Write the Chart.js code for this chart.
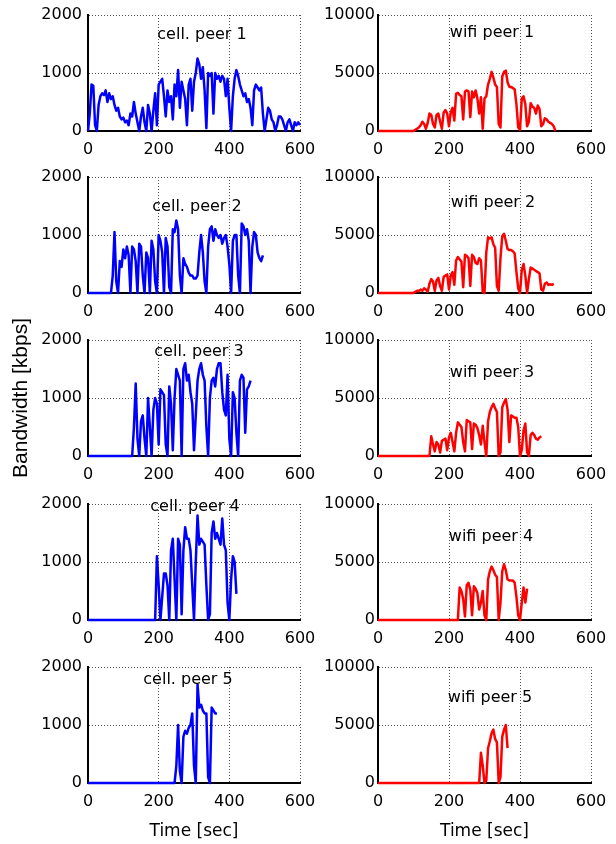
<!DOCTYPE html>
<html>
<head>
<meta charset="utf-8">
<script src="https://cdn.jsdelivr.net/npm/chart.js@4.4.1/dist/chart.umd.min.js"></script>
<style>
  body { margin: 0; background: #fff; width: 616px; height: 844px; position: relative; overflow: hidden; }
  canvas { position: absolute; }
</style>
</head>
<body>
<script>
// traces sampled every 5 s, each starts at its start time (before that the line sits on 0)
const step = 5;

const cellTitles = ["cell. peer 1", "cell. peer 2", "cell. peer 3", "cell. peer 4", "cell. peer 5"];
const wifiTitles = ["wifi peer 1", "wifi peer 2", "wifi peer 3", "wifi peer 4", "wifi peer 5"];
const xTicks = [0, 200, 400, 600];
const cellTicks = [0, 1000, 2000];
const wifiTicks = [0, 5000, 10000];

const cellStart = [0, 65, 125, 190, 245];
const wifiStart = [100, 100, 145, 225, 285];

const cell1 = [
  0,300,800,780,100,0,450,600,650,620,
  700,500,650,550,600,450,350,400,250,200,
  230,150,180,100,300,250,500,300,150,0,
  250,400,150,0,450,300,0,350,650,100,
  800,850,900,600,250,700,500,600,200,800,
  600,1050,400,850,700,550,100,800,900,350,
  850,1000,1250,1150,900,1100,700,50,1000,950,
  1000,300,1000,900,950,850,950,900,600,900,
  400,0,600,900,1050,950,800,700,600,650,
  500,550,400,100,700,800,750,700,750,300,
  0,200,400,350,200,150,0,100,250,250,
  200,100,0,150,200,100,0,150,100,150,
  100
];
const cell2 = [
  0,300,1050,200,0,550,450,750,600,800,
  650,0,800,750,550,0,850,800,300,0,
  700,600,0,900,750,200,0,1000,900,700,
  0,950,800,100,0,1100,1050,1250,1100,300,
  0,600,500,450,350,300,300,250,250,300,
  700,1000,700,200,0,800,1100,1150,900,1100,
  1000,950,1000,850,950,1000,800,500,0,900,
  1000,1000,300,0,1200,1150,1000,1100,900,0,
  800,1050,1000,700,600,550,650
];
const cell3 = [
  0,500,1250,300,0,600,700,300,0,1000,
  500,0,800,1000,900,200,1150,1100,1050,200,
  0,1200,900,100,1000,1500,1400,1300,0,1500,
  1600,1300,1400,1100,900,100,700,1300,1500,1600,
  1400,1300,500,0,1000,1300,1350,1200,1500,1600,
  1600,1100,800,700,1400,300,0,1100,1000,400,
  0,1300,1400,1350,400,1150,1200,1300
];
const cell4 = [
  0,1100,600,0,400,800,800,600,0,1200,
  1400,700,0,1400,1300,100,1200,1600,1400,1400,
  1200,600,0,1000,1800,1300,1400,1350,1300,600,
  0,100,1500,1700,1400,1500,1400,1300,1750,1300,
  1200,300,0,700,1100,1000,450
];
const cell5 = [
  0,300,1000,200,0,800,900,850,950,1000,
  1200,300,0,1700,1300,1350,1250,1200,1200,100,
  0,1300,1250,1200,1200
];

const wifi1 = [
  0,100,200,300,500,800,600,200,700,1500,
  1400,600,300,1400,1500,800,200,1600,1800,1500,
  400,1600,2000,900,3200,3300,3100,3000,1000,3400,
  3500,3400,1200,3400,2900,3500,2800,1500,2900,200,
  2800,3000,4000,4500,5100,4600,4000,3800,600,300,
  4700,5100,5200,4200,3800,3800,3700,3600,2300,300,
  100,2800,3000,2300,400,800,2400,2100,2000,1500,
  2200,1900,400,600,1100,1000,800,700,600,400,
  0
];
const wifi2 = [
  0,100,200,150,300,200,400,300,100,800,
  1200,1000,200,1100,1300,600,200,1400,1500,1600,
  300,1500,1800,700,2800,3100,2900,2700,500,3300,
  3200,3000,600,3300,3100,2600,2500,3000,2800,100,
  0,3500,4800,4700,4800,4200,3900,600,200,3000,
  4900,5100,4500,3800,3700,3700,3600,3400,1800,400,
  0,2000,2500,1500,0,1200,2200,2100,2000,1900,
  1800,1700,300,200,800,900,700,750,700,800
];
const wifi3 = [
  0,1700,1000,400,1200,1000,300,1300,1400,1500,
  500,1600,2000,1200,400,2000,2900,2700,2500,1200,
  400,3100,3000,2900,600,2800,2700,2400,1800,1000,
  2600,1200,0,3000,3800,4200,4500,4100,3800,0,
  300,4200,4600,4900,4000,1200,3500,3400,3300,3300,
  2500,0,500,2200,2800,300,0,1800,2000,1800,
  1500,1400,1600,1700
];
const wifi4 = [
  0,2800,2500,1800,300,3000,3200,2600,400,2900,
  2700,2300,900,1500,2500,400,0,3500,4200,4600,
  4300,3900,3700,0,1500,4200,4800,4300,3500,3400,
  3400,3400,3200,2000,400,0,1500,2800,1500,2700
];
const wifi5 = [
  0,2600,1500,0,200,3000,3600,4300,4600,3800,
  3500,0,500,4000,4600,5000,3000
];

const cellSeries = [cell1, cell2, cell3, cell4, cell5];
const wifiSeries = [wifi1, wifi2, wifi3, wifi4, wifi5];

// page layout (pixels)
const rowTop = [15, 177, 340, 504, 667];
const plotH = 116;
const padTop = 26; // room above the plot, also keeps the long y title inside its canvas
const colLeft = [0, 300];
const colWidth = [330, 316];
const yAxisW = [88, 78];
const padRight = [30, 25];
// where each little title sits, relative to the top-left of its plot
const cellTitlePos = [[114, 20], [109, 30], [111, 12], [107, 3], [100, 13]];
const wifiTitlePos = [[114, 18], [115, 26], [114, 33], [113, 33], [112, 31]];

const tickFont = { family: "'DejaVu Sans', sans-serif", size: 16 };

function toPoints(start, values) {
  const pts = [];
  if (start > 0) pts.push({ x: 0, y: 0 });
  values.forEach((v, i) => pts.push({ x: start + i * step, y: v }));
  return pts;
}

const panelTitle = {
  id: 'panelTitle',
  afterDatasetsDraw(chart, args, opts) {
    const ctx = chart.ctx;
    const a = chart.chartArea;
    ctx.save();
    ctx.font = "16px 'DejaVu Sans', sans-serif";
    ctx.fillStyle = '#000';
    ctx.textAlign = 'center';
    ctx.textBaseline = 'middle';
    ctx.fillText(opts.text, a.left + opts.dx, a.top + opts.dy);
    ctx.restore();
  }
};

function makePanel(row, col, title, pos, points, color, ticks) {
  const last = row === 4;
  const xh = last ? 61 : 40;
  const cv = document.createElement('canvas');
  cv.width = colWidth[col];
  cv.height = padTop + plotH + xh;
  cv.style.left = colLeft[col] + 'px';
  cv.style.top = (rowTop[row] - padTop) + 'px';
  document.body.appendChild(cv);

  const gridColor = c => (c.tick && c.tick.value === 0) ? 'rgba(0,0,0,0)' : '#555';

  return new Chart(cv, {
    type: 'line',
    data: {
      datasets: [{
        data: points,
        borderColor: color,
        borderWidth: 2.5,
        borderJoinStyle: 'round',
        pointRadius: 0,
        tension: 0,
        fill: false,
        clip: false
      }]
    },
    options: {
      responsive: false,
      animation: false,
      layout: { padding: { top: padTop, right: padRight[col], left: 0, bottom: 0 } },
      plugins: {
        legend: { display: false },
        tooltip: { enabled: false },
        panelTitle: { text: title, dx: pos[0], dy: pos[1] }
      },
      scales: {
        x: {
          type: 'linear',
          min: xTicks[0],
          max: xTicks[xTicks.length - 1],
          afterBuildTicks: s => { s.ticks = xTicks.map(v => ({ value: v })); },
          ticks: { font: tickFont, color: '#000', padding: 9, maxRotation: 0, autoSkip: false },
          grid: { color: gridColor, lineWidth: 1, drawTicks: false },
          border: { color: '#000', width: 2, dash: [1, 2] },
          title: {
            display: last,
            text: 'Time [sec]',
            color: '#000',
            font: { family: "'DejaVu Sans', sans-serif", size: 17 },
            padding: { top: 0, bottom: 2 }
          },
          afterFit: s => { s.height = xh; }
        },
        y: {
          min: ticks[0],
          max: ticks[ticks.length - 1],
          afterBuildTicks: s => { s.ticks = ticks.map(v => ({ value: v })); },
          ticks: { font: tickFont, color: '#000', padding: col === 0 ? 6 : 3, callback: v => String(v) },
          grid: { color: gridColor, lineWidth: 1, drawTicks: false },
          border: { color: '#000', width: 2, dash: [1, 2] },
          title: {
            display: col === 0 && row === 2,
            text: 'Bandwidth [kbps]',
            color: '#000',
            font: { family: "'Liberation Sans', Arial, sans-serif", size: 21 },
            padding: { top: 9, bottom: 0 }
          },
          afterFit: s => { s.width = yAxisW[col]; }
        }
      }
    },
    plugins: [panelTitle]
  });
}

for (let r = 0; r < 5; r++) {
  makePanel(r, 0, cellTitles[r], cellTitlePos[r], toPoints(cellStart[r], cellSeries[r]), '#0000ff', cellTicks);
  makePanel(r, 1, wifiTitles[r], wifiTitlePos[r], toPoints(wifiStart[r], wifiSeries[r]), '#ff0000', wifiTicks);
}
</script>
</body>
</html>
